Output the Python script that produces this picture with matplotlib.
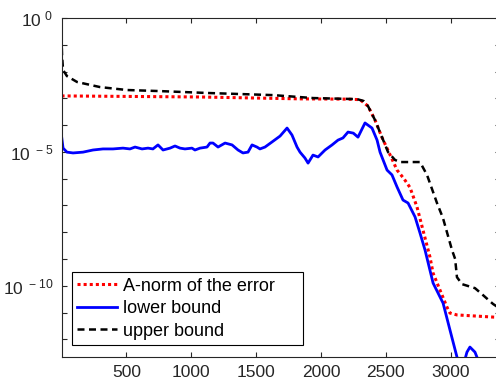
import numpy as np
import matplotlib
matplotlib.use("Agg")
import matplotlib.pyplot as plt
from matplotlib.ticker import FixedLocator, FuncFormatter, NullFormatter

plt.rcParams['font.family'] = ['Liberation Sans', 'DejaVu Sans']
plt.rcParams['mathtext.default'] = 'regular'

# data (y values given as log10 exponents)
err_x = [0, 1068, 1840, 2200, 2302, 2363, 2417, 2470, 2518, 2587, 2640, 2687,
         2741, 2787, 2841, 2865, 2918, 2972, 2995, 3049, 3327, 3380]
err_e = [-2.91, -2.95, -3.02, -3.03, -3.05, -3.29, -3.81, -4.45, -4.95, -5.68, -6.0, -6.33,
         -7.06, -7.92, -8.93, -9.53, -10.16, -10.80, -11.02, -11.09, -11.17, -11.18]

up_x = [0, 4, 12, 42, 120, 297, 505, 759, 1122, 1631, 1940, 2279, 2330, 2363, 2417,
        2518, 2571, 2610, 2764, 2818, 2895, 2941, 3011, 3035, 3049, 3088, 3188, 3250,
        3327, 3380]
up_e = [-0.7, -1.38, -1.94, -2.17, -2.39, -2.58, -2.69, -2.73, -2.80, -2.88, -2.99,
        -3.03, -3.10, -3.29, -3.81, -5.01, -5.30, -5.38, -5.38, -5.86, -6.91, -7.47,
        -8.67, -9.0, -9.68, -9.94, -10.09, -10.35, -10.68, -10.85]

low_x = [0, 12, 42, 89, 166, 243, 320, 397, 474, 528, 567, 621, 667, 705, 744, 783,
         837, 875, 914, 952, 1006, 1029, 1068, 1122, 1145, 1168, 1207, 1261, 1315,
         1361, 1399, 1438, 1469, 1507, 1530, 1569, 1623, 1685, 1739, 1777, 1816, 1839,
         1877, 1901, 1939, 1978, 2032, 2086, 2132, 2170, 2209, 2250, 2286, 2340, 2394,
         2433, 2456, 2510, 2548, 2587, 2633, 2672, 2726, 2764, 2803, 2865, 2942, 2995,
         3049, 3088, 3126, 3149, 3188, 3227, 3270]
low_e = [-4.40, -4.86, -5.01, -5.04, -5.01, -4.93, -4.89, -4.89, -4.86, -4.89, -4.82,
         -4.89, -4.86, -4.89, -4.74, -4.93, -4.86, -4.78, -4.86, -4.89, -4.86, -4.93,
         -4.86, -4.82, -4.67, -4.67, -4.82, -4.67, -4.74, -4.93, -5.04, -5.01, -4.74,
         -4.82, -4.89, -4.82, -4.63, -4.41, -4.11, -4.37, -4.82, -5.01, -5.23, -5.42,
         -5.12, -5.19, -4.93, -4.74, -4.56, -4.48, -4.26, -4.30, -4.45, -3.92, -4.11,
         -4.56, -5.01, -5.68, -5.86, -6.31, -6.80, -6.91, -7.43, -8.03, -8.67, -9.90,
         -10.65, -11.65, -12.66, -13.15, -12.48, -12.29, -12.48, -12.96, -13.6]

labels = ['A-norm of the error', 'lower bound', 'upper bound']

fig = plt.figure(figsize=(4.96, 3.82), dpi=100)
ax = fig.add_axes([61.5 / 496, 1 - 356.7 / 382, 438 / 496, (356.7 - 18) / 382])

ax.semilogy(err_x, 10.0 ** np.array(err_e), color='red', lw=2.2,
            linestyle=(0, (1, 1)), label=labels[0])
ax.semilogy(low_x, 10.0 ** np.array(low_e), color='blue', lw=2.0, label=labels[1])
ax.semilogy(up_x, 10.0 ** np.array(up_e), color='black', lw=1.8,
            linestyle=(0, (2.8, 1.8)), label=labels[2])

ax.set_xlim(0, 3377)
ax.set_ylim(10 ** -12.65, 1)

ax.set_xticks([500, 1000, 1500, 2000, 2500, 3000])
ax.yaxis.set_major_locator(FixedLocator([1e0, 1e-5, 1e-10]))
ax.yaxis.set_minor_locator(FixedLocator([10.0 ** -k for k in range(1, 13)]))
ax.yaxis.set_major_formatter(FuncFormatter(lambda v, p: r'$10^{\ %d}$' % round(np.log10(v))))
ax.yaxis.set_minor_formatter(NullFormatter())
ax.tick_params(which='both', direction='in', top=True, right=True, length=3.5,
               width=0.8, labelsize=12.5, colors='#262626')
ax.tick_params(axis='x', pad=6)
ax.tick_params(axis='y', pad=6)
for s in ax.spines.values():
    s.set_linewidth(0.8)
    s.set_color('#262626')

leg = ax.legend(loc='lower left', bbox_to_anchor=(72 / 496, 1 - 345 / 382, 231 / 496, 73 / 382),
                bbox_transform=fig.transFigure, mode='expand', fontsize=13,
                handlelength=2.2, handletextpad=0.3, labelspacing=0.3, borderpad=0.3,
                borderaxespad=0, fancybox=False, framealpha=1)
leg.get_frame().set_edgecolor('black')
leg.get_frame().set_linewidth(0.8)

fig.savefig('out.png', dpi=100)
